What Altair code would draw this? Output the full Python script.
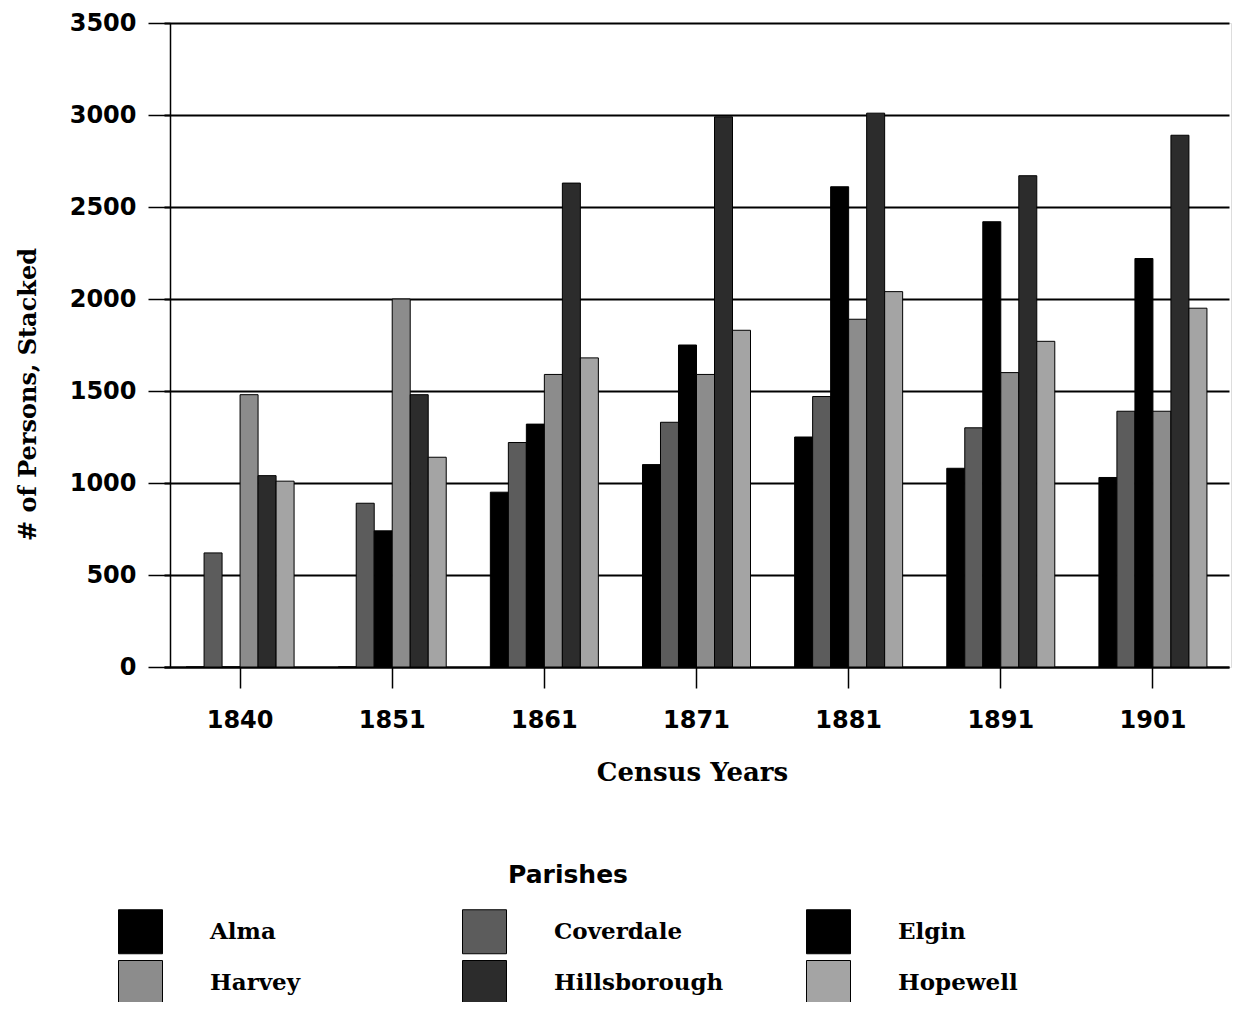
import altair as alt
import pandas as pd

years = ["1840", "1851", "1861", "1871", "1881", "1891", "1901"]
parishes = ["Alma", "Coverdale", "Elgin", "Harvey", "Hillsborough", "Hopewell"]
alma = [0, 0, 950, 1100, 1250, 1080, 1030]
coverdale = [620, 890, 1220, 1330, 1470, 1300, 1390]
elgin = [0, 740, 1320, 1750, 2610, 2420, 2220]
harvey = [1480, 2000, 1590, 1590, 1890, 1600, 1390]
hillsborough = [1040, 1480, 2630, 2990, 3010, 2670, 2890]
hopewell = [1010, 1140, 1680, 1830, 2040, 1770, 1950]
y_ticks = [0, 500, 1000, 1500, 2000, 2500, 3000, 3500]
fills = ["#000000", "#5c5c5c", "#000000", "#8c8c8c", "#2c2c2c", "#a4a4a4"]

series = [alma, coverdale, elgin, harvey, hillsborough, hopewell]
rows = []
for p, vals in zip(parishes, series):
    for yr, v in zip(years, vals):
        rows.append({"Year": yr, "Parish": p, "Persons": v})
df = pd.DataFrame(rows)

chart = alt.Chart(df).mark_bar(stroke="black", strokeWidth=1).encode(
    x=alt.X(
        "Year:N",
        sort=years,
        scale=alt.Scale(range=[-6, 1059], paddingInner=0.29, paddingOuter=0.145),
        axis=alt.Axis(
            title="Census Years",
            labelAngle=0,
            labelFont="DejaVu Sans",
            labelFontWeight="bold",
            labelFontSize=24,
            labelColor="black",
            labelPadding=20,
            tickSize=21,
            tickColor="black",
            tickWidth=1.5,
            domainColor="black",
            domainWidth=2,
            titleFont="DejaVu Serif",
            titleFontWeight="bold",
            titleFontSize=26,
            titleColor="black",
            titlePadding=27,
            titleX=522,
        ),
    ),
    xOffset=alt.XOffset("Parish:N", sort=parishes, scale=alt.Scale(paddingInner=0, paddingOuter=0)),
    y=alt.Y(
        "Persons:Q",
        scale=alt.Scale(domain=[0, 3500], nice=False),
        axis=alt.Axis(
            title="# of Persons, Stacked",
            values=y_ticks,
            format="d",
            labelFont="DejaVu Sans",
            labelFontWeight="bold",
            labelFontSize=24,
            labelColor="black",
            labelPadding=12,
            tickSize=22,
            tickColor="black",
            tickWidth=1.5,
            domainColor="black",
            domainWidth=1.5,
            grid=True,
            gridColor="black",
            gridWidth=1.8,
            gridOpacity=1,
            titleFont="DejaVu Serif",
            titleFontWeight="bold",
            titleFontSize=24,
            titleColor="black",
            titleAngle=270,
            titleAlign="center",
            titleBaseline="middle",
            titleX=-142,
            titleY=371,
        ),
    ),
    color=alt.Color(
        "Parish:N",
        sort=parishes,
        scale=alt.Scale(domain=parishes, range=fills),
        legend=alt.Legend(
            title="\u00a0" * 8 + "Parishes",
            orient="none",
            direction="horizontal",
            legendX=-52,
            legendY=840,
            columns=3,
            gridAlign="all",
            columnPadding=80,
            rowPadding=2,
            symbolType="square",
            symbolSize=1936,
            symbolStrokeColor="black",
            symbolStrokeWidth=1,
            symbolOpacity=1,
            labelFont="DejaVu Serif",
            labelFontWeight="bold",
            labelFontSize=23,
            labelColor="black",
            labelOffset=47,
            labelLimit=400,
            titleFont="DejaVu Sans",
            titleFontWeight="bold",
            titleFontSize=25,
            titleColor="black",
            titleAnchor="middle",
            titleAlign="center",
            titlePadding=21,
            padding=0,
        ),
    ),
).properties(
    width=1061,
    height=644,
    autosize=alt.AutoSizeParams(type="none"),
    padding={"left": 162, "top": 15, "right": 1, "bottom": 335},
).configure_view(
    stroke="black", strokeWidth=1.5
).configure(
    background="white"
)

chart.save("out.html", embed_options={"renderer": "svg", "actions": False})
